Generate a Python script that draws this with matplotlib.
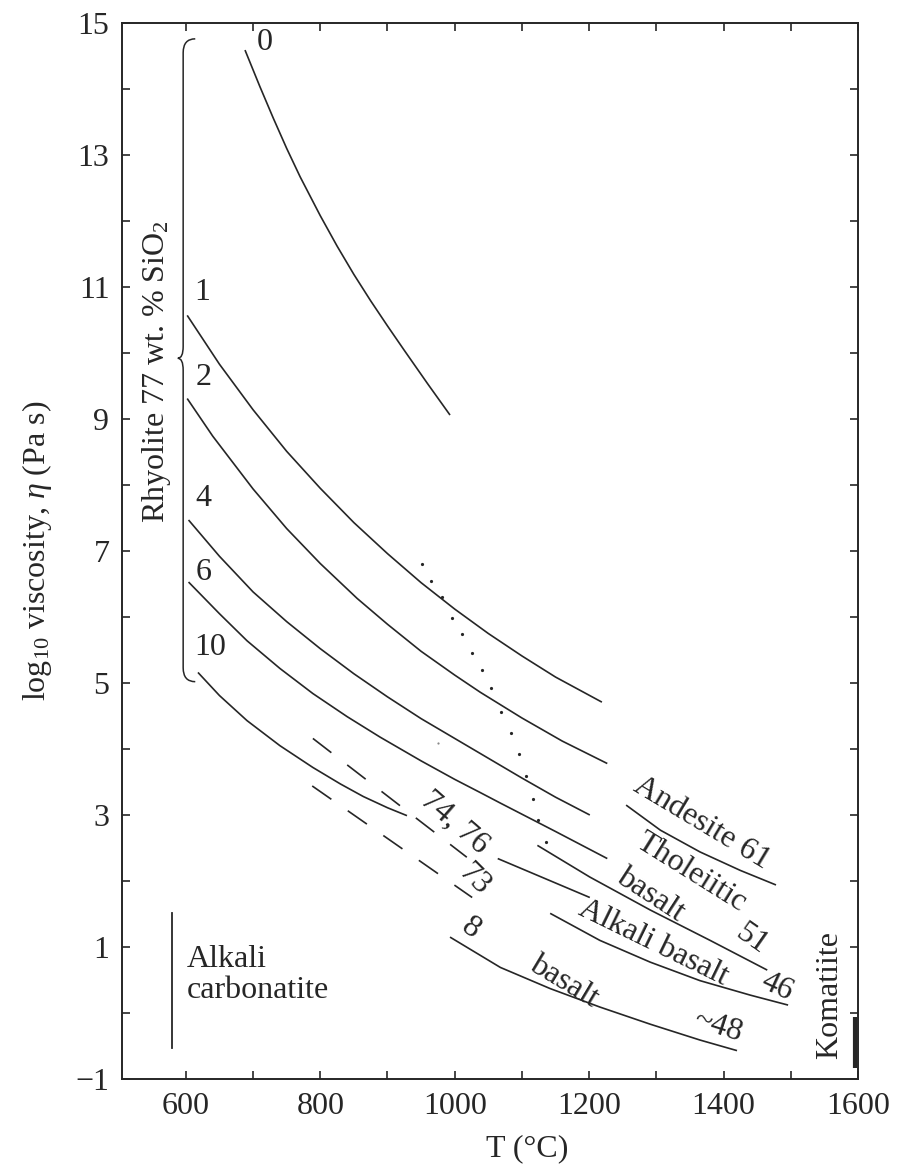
import matplotlib.pyplot as plt
from matplotlib.path import Path
from matplotlib.patches import PathPatch

plt.rcParams['font.family'] = ['Liberation Serif', 'DejaVu Serif']
plt.rcParams['mathtext.fontset'] = 'custom'
plt.rcParams['mathtext.rm'] = 'Liberation Serif'
plt.rcParams['mathtext.it'] = 'Liberation Serif:italic'

# rhyolite curves, labelled by wt.% H2O
t_w0 = [688, 710, 730, 750, 770, 800, 825, 850, 875, 900, 925, 960, 993]
v_w0 = [14.59, 14.04, 13.56, 13.10, 12.67, 12.08, 11.62, 11.19, 10.79, 10.41, 10.04, 9.53, 9.06]
t_w1 = [602, 650, 700, 750, 800, 850, 900, 950, 1000, 1050, 1100, 1150, 1219]
v_w1 = [10.57, 9.83, 9.14, 8.51, 7.95, 7.43, 6.96, 6.52, 6.12, 5.75, 5.41, 5.09, 4.71]
t_w2 = [602, 640, 700, 750, 800, 855, 900, 950, 1000, 1038, 1100, 1160, 1227]
v_w2 = [9.31, 8.74, 7.94, 7.34, 6.81, 6.28, 5.89, 5.48, 5.12, 4.86, 4.47, 4.12, 3.78]
t_w4 = [604, 650, 700, 750, 800, 850, 900, 950, 1000, 1050, 1100, 1150, 1201]
v_w4 = [7.47, 6.92, 6.38, 5.93, 5.52, 5.14, 4.79, 4.46, 4.16, 3.86, 3.56, 3.27, 3.00]
t_w6 = [604, 650, 691, 740, 789, 840, 889, 950, 1000, 1038, 1068, 1150, 1227]
v_w6 = [6.53, 6.05, 5.64, 5.22, 4.84, 4.49, 4.18, 3.82, 3.54, 3.34, 3.18, 2.75, 2.34]
t_w10 = [618, 650, 691, 740, 789, 830, 864, 900, 929]
v_w10 = [5.16, 4.81, 4.43, 4.05, 3.72, 3.47, 3.28, 3.11, 2.99]

water_labels = ['0', '1', '2', '4', '6', '10']
water_label_t = [718, 624, 627, 626, 626, 636]
water_label_v = [14.71, 10.92, 9.63, 7.80, 6.68, 5.54]

# dashed rhyolites
t_r7476 = [789, 1018]
v_r7476 = [4.16, 2.36]
t_r73 = [788, 1026]
v_r73 = [3.44, 1.75]
t_seg = [1064, 1201]
v_seg = [2.34, 1.75]

# other melts
t_and = [1255, 1306, 1365, 1425, 1478]
v_and = [3.15, 2.77, 2.44, 2.16, 1.94]
t_thol = [1123, 1201, 1291, 1380, 1465]
v_thol = [2.54, 2.06, 1.56, 1.10, 0.65]
t_alk = [1142, 1216, 1291, 1365, 1440, 1496]
v_alk = [1.51, 1.10, 0.77, 0.49, 0.27, 0.12]
t_b8 = [993, 1068, 1142, 1216, 1291, 1365, 1420]
v_b8 = [1.15, 0.69, 0.37, 0.09, -0.17, -0.41, -0.57]

# dotted line
t_dots = [951, 965, 981, 996, 1011, 1026, 1041, 1054, 1069, 1084, 1096, 1106, 1117, 1124, 1136]
v_dots = [6.81, 6.54, 6.30, 5.99, 5.74, 5.46, 5.19, 4.92, 4.56, 4.25, 3.92, 3.59, 3.25, 2.93, 2.59]
t_stray, v_stray = 975, 4.09

t_carb = [580, 580]
v_carb = [-0.53, 1.52]
t_kom = [1596, 1596]
v_kom = [-0.84, -0.06]

x_ticks = list(range(600, 1601, 100))
x_tick_labels = ['600', '', '800', '', '1000', '', '1200', '', '1400', '', '1600']
y_ticks = list(range(-1, 16))
y_tick_labels = ['\u22121' if v == -1 else (str(v) if v % 2 else '') for v in y_ticks]

ink = '#262626'
fs = 23

fig = plt.figure(figsize=(9.03, 11.67), dpi=100)
ax = fig.add_axes([122 / 903, 1 - 1079 / 1167, 736 / 903, 1056 / 1167])
ax.set_xlim(505, 1600)
ax.set_ylim(-1, 15)

lw = 1.2
for t, v in [(t_w0, v_w0), (t_w1, v_w1), (t_w2, v_w2), (t_w4, v_w4), (t_w6, v_w6),
             (t_w10, v_w10), (t_seg, v_seg), (t_and, v_and), (t_thol, v_thol),
             (t_alk, v_alk), (t_b8, v_b8)]:
    ax.plot(t, v, color=ink, lw=lw, solid_capstyle='butt', solid_joinstyle='round')

for t, v in [(t_r7476, v_r7476), (t_r73, v_r73)]:
    ax.plot(t, v, color=ink, lw=lw, linestyle=(0, (14, 12)))

ax.plot(t_dots, v_dots, 'o', color=ink, ms=2.3, mew=0)
ax.plot([t_stray], [v_stray], 'o', color='#888888', ms=1.6, mew=0)

ax.plot(t_carb, v_carb, color=ink, lw=1.3)
ax.plot(t_kom, v_kom, color=ink, lw=3.0, solid_capstyle='butt')

for lab, t, v in zip(water_labels, water_label_t, water_label_v):
    ax.text(t, v, lab, fontsize=fs, color=ink, ha='center', va='center')

# brace for rhyolite 77 wt.% SiO2
verts = [(614, 14.76), (596, 14.76), (596, 14.55), (596, 10.10),
         (596, 9.92), (588, 9.92), (596, 9.92), (596, 9.74),
         (596, 5.23), (596, 5.02), (614, 5.02)]
codes = [Path.MOVETO, Path.CURVE3, Path.CURVE3, Path.LINETO,
         Path.CURVE3, Path.CURVE3, Path.CURVE3, Path.CURVE3,
         Path.LINETO, Path.CURVE3, Path.CURVE3]
ax.add_patch(PathPatch(Path(verts, codes), fill=False, ec=ink, lw=1.1))
ax.text(557, 9.72, 'Rhyolite 77 wt. % SiO$_2$', fontsize=fs, color=ink,
        rotation=90, ha='center', va='center')

ax.text(1000, 2.89, '74, 76', fontsize=fs, color=ink, rotation=-41,
        ha='center', va='center', rotation_mode='anchor')
ax.text(1030, 2.01, '73', fontsize=fs, color=ink, rotation=-45,
        ha='center', va='center', rotation_mode='anchor')
ax.text(1023, 1.28, '8', fontsize=fs, color=ink, rotation=-35,
        ha='center', va='center', rotation_mode='anchor')
ax.text(1368, 2.87, 'Andesite 61', fontsize=fs, color=ink, rotation=-31,
        ha='center', va='center', rotation_mode='anchor')
ax.text(1352, 2.12, 'Tholeiitic', fontsize=fs, color=ink, rotation=-32,
        ha='center', va='center', rotation_mode='anchor')
ax.text(1291, 1.78, 'basalt', fontsize=fs, color=ink, rotation=-33,
        ha='center', va='center', rotation_mode='anchor')
ax.text(1441, 1.12, '51', fontsize=fs, color=ink, rotation=-35,
        ha='center', va='center', rotation_mode='anchor')
ax.text(1295, 1.06, 'Alkali basalt', fontsize=fs, color=ink, rotation=-26,
        ha='center', va='center', rotation_mode='anchor')
ax.text(1480, 0.39, '46', fontsize=fs, color=ink, rotation=-25,
        ha='center', va='center', rotation_mode='anchor')
ax.text(1163, 0.48, 'basalt', fontsize=fs, color=ink, rotation=-31,
        ha='center', va='center', rotation_mode='anchor')
ax.text(1392, -0.20, '~48', fontsize=fs, color=ink, rotation=-18,
        ha='center', va='center', rotation_mode='anchor')
ax.text(1558, 0.27, 'Komatiite', fontsize=fs, color=ink, rotation=90,
        ha='center', va='center')
ax.text(602, 0.57, 'Alkali\ncarbonatite', fontsize=fs, color=ink,
        ha='left', va='center', linespacing=1.1)

ax.set_xticks(x_ticks)
ax.set_xticklabels(x_tick_labels)
ax.set_yticks(y_ticks)
ax.set_yticklabels(y_tick_labels)
ax.tick_params(direction='in', top=True, right=True, length=6, width=1.2,
               labelsize=fs, colors=ink, pad=9)
for s in ax.spines.values():
    s.set_linewidth(1.4)
    s.set_color(ink)

ax.set_xlabel('T (\u00b0C)', fontsize=fs, color=ink)
ax.xaxis.set_label_coords(0.55, -0.052)
ax.set_ylabel('log$_{10}$ viscosity, $\\eta$ (Pa s)', fontsize=fs, color=ink)
ax.yaxis.set_label_coords(-0.092, 0.5)

fig.savefig('out.png', dpi=100, facecolor='white')
